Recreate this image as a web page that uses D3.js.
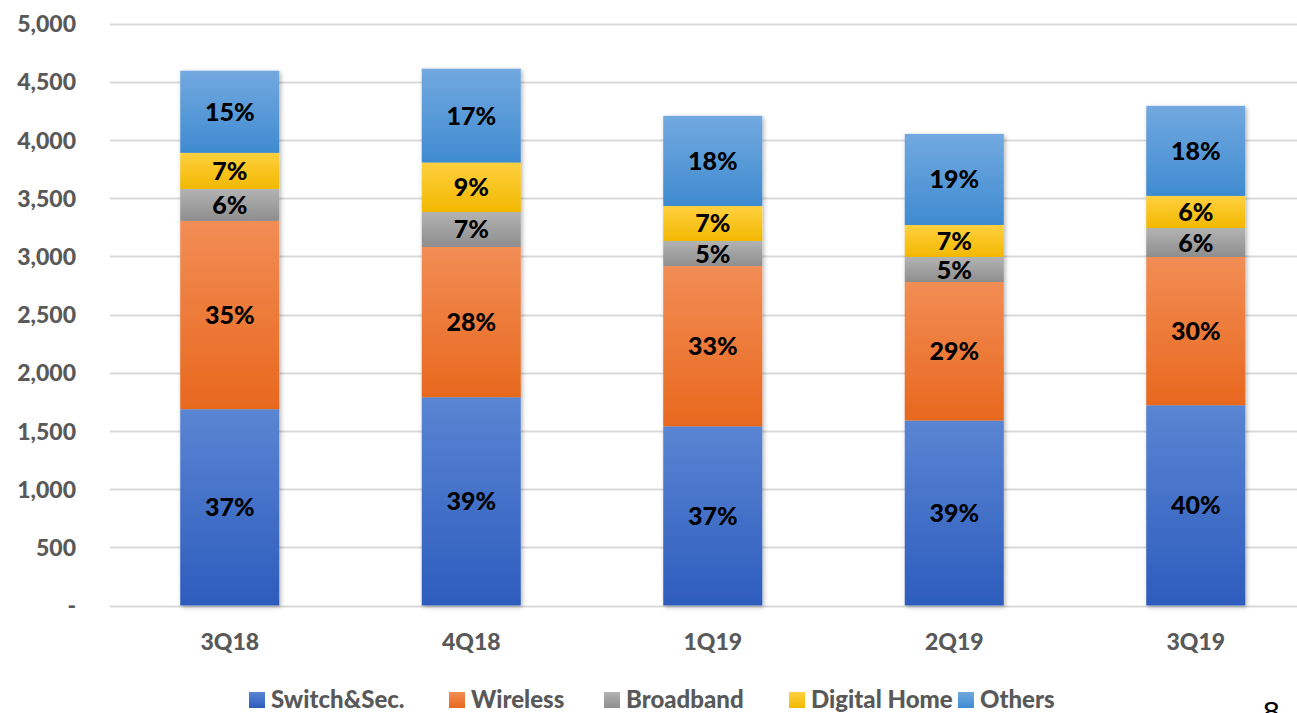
<!DOCTYPE html>
<html><head><meta charset="utf-8">
<script src="https://cdn.jsdelivr.net/npm/d3@7"></script>
<style>body{margin:0;background:#fff;overflow:hidden}svg{display:block}</style>
</head><body><svg id="c" width="1297" height="713"></svg>
<script>
const categories = ["3Q18","4Q18","1Q19","2Q19","3Q19"];
const seriesNames = ["Switch&Sec.","Wireless","Broadband","Digital Home","Others"];
const switchSec = [1687,1790,1540,1590,1721];
const wireless  = [1618,1291,1377,1190,1274];
const broadband = [275,301,216,215,249];
const digitalHome = [310,425,300,275,276];
const others = [706,806,775,783,774];
const yTicks = [0,500,1000,1500,2000,2500,3000,3500,4000,4500,5000];
const seriesValues = [switchSec,wireless,broadband,digitalHome,others];
const colors = [["#5a85d3","#2d5cbd"],["#f28d55","#e8681e"],["#b3b3b3","#8e8e8e"],["#ffd040","#f2b800"],["#72a9e0","#3f8bd0"]];

const svg = d3.select("#c");
const font = "Lato, 'Open Sans', sans-serif";
const x = d3.scaleBand().domain(categories).range([109, 109+5*241.5]).paddingInner(0.59).paddingOuter(0.295);
const y = d3.scaleLinear().domain([0,5000]).range([605.5,23.7]);

const defs = svg.append("defs");
colors.forEach((c,i)=>{
  const g = defs.append("linearGradient").attr("id","g"+i).attr("x1",0).attr("y1",0).attr("x2",0).attr("y2",1);
  g.append("stop").attr("offset","0%").attr("stop-color",c[0]);
  g.append("stop").attr("offset","100%").attr("stop-color",c[1]);
});
const f = defs.append("filter").attr("id","sh").attr("x","-10%").attr("y","-10%").attr("width","130%").attr("height","130%");
f.append("feDropShadow").attr("dx",1.5).attr("dy",1.5).attr("stdDeviation",2).attr("flood-color","#000").attr("flood-opacity",0.3);

// gridlines
svg.append("g").selectAll("line").data(yTicks).join("line")
  .attr("x1",110).attr("x2",1297).attr("y1",d=>Math.round(y(d))+0.5).attr("y2",d=>Math.round(y(d))+0.5)
  .attr("stroke","#d9d9d9").attr("stroke-width",2);

// y axis
const yAxis = svg.append("g").attr("transform","translate(76,0)")
  .call(d3.axisLeft(y).tickValues(yTicks).tickSize(0).tickPadding(0).tickFormat(d=>d===0?"-":d3.format(",")(d)));
yAxis.select(".domain").remove();
yAxis.selectAll("text").attr("font-family",font).attr("font-weight","900").attr("font-size",23).attr("fill","#595959").attr("dy","0.35em");

// stack
const table = categories.map((c,i)=>{const o={cat:c}; seriesNames.forEach((s,j)=>o[s]=seriesValues[j][i]); return o;});
const stacked = d3.stack().keys(seriesNames)(table);
const totals = table.map(d=>seriesNames.reduce((a,s)=>a+d[s],0));

const bars = svg.append("g");
bars.selectAll("g.bar").data(categories).join("g").attr("filter","url(#sh)").each(function(cat,i){
  const g = d3.select(this);
  stacked.forEach((layer,j)=>{
    const d = layer[i];
    g.append("rect").attr("x",x(cat)).attr("width",x.bandwidth())
      .attr("y",y(d[1])).attr("height",y(d[0])-y(d[1])).attr("fill",`url(#g${j})`);
  });
});
const lab = svg.append("g");
stacked.forEach((layer,j)=>{
  layer.forEach((d,i)=>{
    const pct = Math.round((d[1]-d[0])/totals[i]*100);
    lab.append("text").attr("x",x(categories[i])+x.bandwidth()/2).attr("y",(y(d[0])+y(d[1]))/2)
      .attr("dy","0.36em").attr("text-anchor","middle").attr("font-family",font).attr("font-weight","900")
      .attr("font-size",25).attr("fill","#000").text(pct+"%");
  });
});

// x axis
const xAxis = svg.append("g").attr("transform","translate(0,642)")
  .call(d3.axisBottom(x).tickSize(0).tickPadding(0));
xAxis.select(".domain").remove();
xAxis.selectAll("text").attr("font-family",font).attr("font-weight","900").attr("font-size",23).attr("fill","#595959").attr("dy","0.35em");

// legend
const legX = [249,449,604,789,958];
const leg = svg.append("g");
seriesNames.forEach((s,j)=>{
  leg.append("rect").attr("x",legX[j]).attr("y",692).attr("width",16).attr("height",16).attr("fill",`url(#g${j})`);
  leg.append("text").attr("x",legX[j]+22).attr("y",700).attr("dy","0.35em").attr("font-family",font).attr("font-weight","900")
    .attr("font-size",24).attr("fill","#595959").text(s);
});
svg.append("text").attr("x",1263).attr("y",722).attr("font-family","Liberation Sans, Arial, sans-serif").attr("font-size",30).attr("fill","#000").text("8");
</script></body></html>
